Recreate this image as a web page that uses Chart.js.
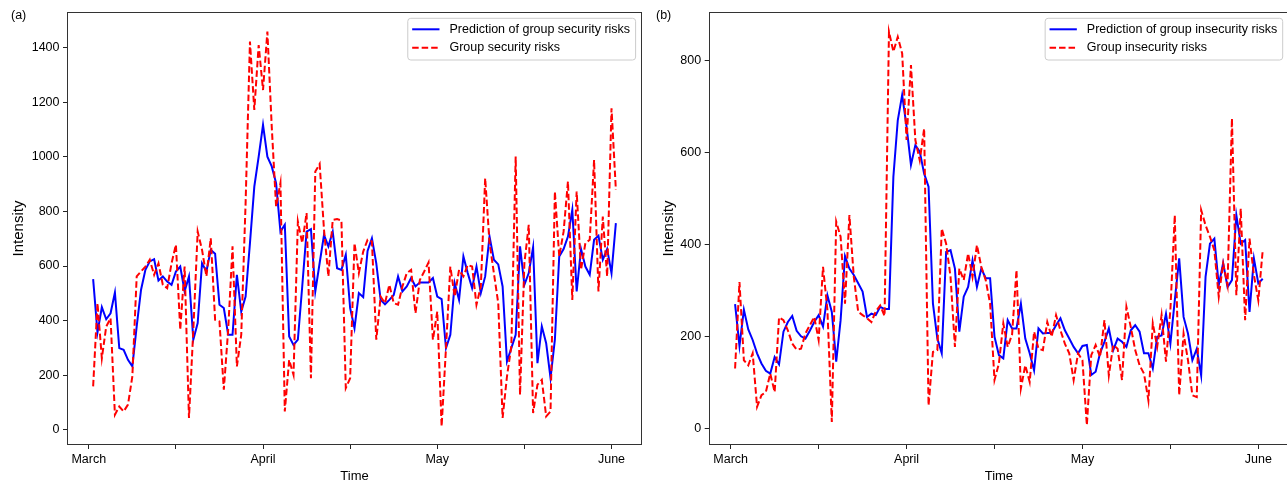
<!DOCTYPE html>
<html>
<head>
<meta charset="utf-8">
<script src="https://cdn.jsdelivr.net/npm/chart.js@4.4.1/dist/chart.umd.min.js"></script>
<style>
html, body { margin: 0; padding: 0; background: #fff; overflow: hidden; }
#wrap { position: relative; width: 1287px; height: 485px; overflow: hidden; }
.panel { position: absolute; top: 0; height: 485px; }
#panelA { left: 0; width: 650px; }
#panelB { left: 650px; width: 645px; }
</style>
</head>
<body>
<div id="wrap">
  <div class="panel" id="panelA"><canvas id="chartA"></canvas></div>
  <div class="panel" id="panelB"><canvas id="chartB"></canvas></div>
</div>
<script>
// x axis: day index 1..121, month ticks every 20 steps
const tickPositions = [0, 20, 40, 60, 80, 100, 120];
const tickLabels = ['March', '', 'April', '', 'May', '', 'June'];

// panel (a) - group security risks
const securityPred = [
  552, 357, 449, 405, 427, 503, 299, 293, 256, 232,
  379, 513, 586, 617, 625, 547, 562, 543, 531, 580,
  598, 507, 562, 330, 391, 610, 580, 659, 645, 458,
  446, 348, 348, 568, 433, 488, 684, 891, 1001, 1117,
  1001, 965, 904, 726, 751, 342, 311, 330, 525, 726,
  735, 507, 611, 714, 672, 726, 592, 586, 641, 446,
  372, 501, 486, 655, 702, 610, 476, 460, 476, 494,
  562, 507, 525, 556, 525, 540, 540, 540, 556, 488,
  479, 299, 348, 537, 476, 635, 574, 519, 598, 501,
  562, 708, 623, 606, 525, 250, 299, 348, 672, 531,
  574, 669, 244, 379, 317, 189, 330, 635, 662, 708,
  806, 507, 662, 598, 568, 696, 711, 623, 662, 574,
  757
];
const securityActual = [
  159, 464, 262, 378, 409, 55, 85, 67, 92, 195,
  562, 580, 598, 623, 568, 610, 531, 519, 610, 678,
  366, 598, 43, 366, 726, 659, 562, 702, 403, 397,
  147, 366, 672, 232, 348, 830, 1423, 1172, 1410, 1245,
  1459, 1111, 818, 904, 67, 256, 201, 763, 684, 794,
  189, 946, 974, 733, 562, 769, 772, 767, 153, 189,
  684, 574, 653, 696, 690, 330, 488, 464, 531, 464,
  458, 525, 574, 586, 427, 549, 580, 613, 330, 433,
  12, 299, 598, 488, 586, 562, 604, 598, 458, 525,
  922, 684, 574, 464, 43, 195, 305, 1001, 128, 610,
  751, 61, 165, 183, 49, 67, 873, 635, 726, 910,
  476, 873, 586, 684, 696, 989, 507, 781, 562, 1178,
  879
];

// panel (b) - group insecurity risks
const insecurityPred = [
  271, 180, 259, 216, 193, 164, 142, 126, 120, 156,
  140, 211, 232, 245, 213, 201, 196, 213, 232, 247,
  222, 290, 254, 146, 236, 375, 348, 334, 316, 298,
  243, 250, 247, 265, 260, 260, 547, 670, 725, 656,
  573, 616, 602, 554, 526, 272, 196, 164, 384, 388,
  348, 211, 287, 308, 366, 308, 348, 327, 327, 200,
  160, 153, 236, 218, 218, 272, 196, 164, 127, 218,
  207, 208, 208, 225, 240, 214, 196, 178, 164, 180,
  182, 117, 124, 164, 189, 218, 171, 196, 189, 178,
  214, 225, 211, 164, 164, 131, 200, 203, 250, 185,
  279, 370, 243, 207, 149, 174, 116, 330, 402, 413,
  312, 360, 308, 323, 464, 402, 410, 254, 370, 316,
  326
];
const insecurityActual = [
  131, 319, 149, 138, 164, 48, 73, 80, 120, 80,
  242, 236, 214, 185, 172, 174, 207, 225, 243, 193,
  352, 258, 15, 450, 417, 272, 464, 330, 254, 247,
  240, 232, 255, 268, 245, 862, 819, 851, 815, 627,
  790, 627, 583, 652, 51, 167, 171, 435, 402, 330,
  178, 348, 323, 381, 330, 399, 352, 323, 272, 106,
  142, 229, 178, 205, 345, 88, 138, 102, 211, 174,
  171, 232, 200, 247, 214, 185, 164, 106, 164, 149,
  8, 160, 182, 156, 236, 116, 182, 174, 106, 265,
  221, 171, 138, 120, 62, 229, 178, 247, 146, 258,
  464, 73, 207, 149, 73, 69, 475, 442, 417, 388,
  287, 359, 312, 674, 290, 478, 236, 413, 334, 279,
  388
];

const securityTicks = [0, 200, 400, 600, 800, 1000, 1200, 1400];
const insecurityTicks = [0, 200, 400, 600, 800];

const FONT = '"Liberation Sans", Arial, sans-serif';
Chart.defaults.font.family = FONT;
Chart.defaults.color = '#000';

// frame, panel letter and matplotlib-like legend box
const decor = {
    id: 'decor',
    afterDatasetsDraw(chart, args, opts) {
        const ctx = chart.ctx;
        const a = chart.chartArea;
        ctx.save();

        ctx.strokeStyle = '#333';
        ctx.lineWidth = 1;
        const l = Math.round(a.left) + 0.5, t = Math.round(a.top) + 0.5;
        const r = Math.round(a.right) - 0.5, b = Math.round(a.bottom) - 0.5;
        ctx.strokeRect(l, t, r - l, b - t);

        ctx.font = '12.5px ' + FONT;
        const sets = chart.data.datasets;
        const textW = Math.max(...sets.map(d => ctx.measureText(d.label).width));
        const w = 41.7 + textW + 5.5, h = 41.7;
        const x0 = a.right - 6.4 - w, y0 = a.top + 6.3;
        ctx.beginPath();
        ctx.roundRect(x0, y0, w, h, 3);
        ctx.fillStyle = 'rgba(255,255,255,0.8)';
        ctx.fill();
        ctx.strokeStyle = '#cccccc';
        ctx.stroke();

        sets.forEach((d, k) => {
            const cy = y0 + 11 + k * 18.4;
            ctx.beginPath();
            ctx.setLineDash(d.borderDash || []);
            ctx.strokeStyle = d.borderColor;
            ctx.lineWidth = 2;
            ctx.moveTo(x0 + 4.4, cy);
            ctx.lineTo(x0 + 31.7, cy);
            ctx.stroke();
            ctx.setLineDash([]);
            ctx.fillStyle = '#000';
            ctx.textBaseline = 'middle';
            ctx.textAlign = 'left';
            ctx.fillText(d.label, x0 + 41.7, cy);
        });

        ctx.font = '12.5px ' + FONT;
        ctx.fillStyle = '#000';
        ctx.textBaseline = 'middle';
        ctx.fillText(opts.letter, opts.letterX, 16);
        ctx.restore();
    }
};

function makeChart(canvasId, predLabel, actualLabel, pred, actual, yMin, yMax, yTicks, yWidth, rightPad, letter, letterX) {
    new Chart(document.getElementById(canvasId), {
        type: 'line',
        data: {
            datasets: [{
                label: predLabel,
                data: pred.map((v, k) => ({x: k + 1, y: v})),
                borderColor: '#0000ff',
                borderWidth: 2,
                pointRadius: 0,
                tension: 0,
                order: 1
            }, {
                label: actualLabel,
                data: actual.map((v, k) => ({x: k + 1, y: v})),
                borderColor: '#ff0000',
                borderWidth: 2,
                borderDash: [6.5, 3],
                pointRadius: 0,
                tension: 0,
                order: 0
            }]
        },
        options: {
            responsive: true,
            maintainAspectRatio: false,
            animation: false,
            layout: {
                padding: {top: 12, right: rightPad, bottom: 0, left: 0}
            },
            plugins: {
                legend: {display: false},
                tooltip: {enabled: false},
                decor: {letter: letter, letterX: letterX}
            },
            scales: {
                x: {
                    type: 'linear',
                    min: -5,
                    max: 127,
                    afterBuildTicks: s => { s.ticks = tickPositions.map(v => ({value: v})); },
                    afterFit: s => { s.height = 40; },
                    grid: {drawOnChartArea: false, drawTicks: true, tickLength: 4, color: '#222'},
                    border: {display: false},
                    ticks: {
                        autoSkip: false,
                        maxRotation: 0,
                        padding: 3,
                        color: '#000',
                        font: {size: 12.5},
                        callback: v => tickLabels[tickPositions.indexOf(v)]
                    },
                    title: {
                        display: true,
                        text: 'Time',
                        color: '#000',
                        font: {size: 13},
                        padding: {top: 0, bottom: 0.5}
                    }
                },
                y: {
                    min: yMin,
                    max: yMax,
                    afterBuildTicks: s => { s.ticks = yTicks.map(v => ({value: v})); },
                    afterFit: s => { s.width = yWidth; },
                    grid: {drawOnChartArea: false, drawTicks: true, tickLength: 4, color: '#222'},
                    border: {display: false},
                    ticks: {
                        padding: 3.5,
                        color: '#000',
                        font: {size: 12.5},
                        callback: v => String(v)
                    },
                    title: {
                        display: true,
                        text: 'Intensity',
                        color: '#000',
                        font: {size: 15},
                        padding: {top: 9.5, bottom: 0}
                    }
                }
            }
        },
        plugins: [decor]
    });
}

makeChart('chartA', 'Prediction of group security risks', 'Group security risks',
    securityPred, securityActual, -56, 1531, securityTicks, 67, 8, '(a)', 11);
makeChart('chartB', 'Prediction of group insecurity risks', 'Group insecurity risks',
    insecurityPred, insecurityActual, -35, 905, insecurityTicks, 58.7, 5.9, '(b)', 6);
</script>
</body>
</html>
